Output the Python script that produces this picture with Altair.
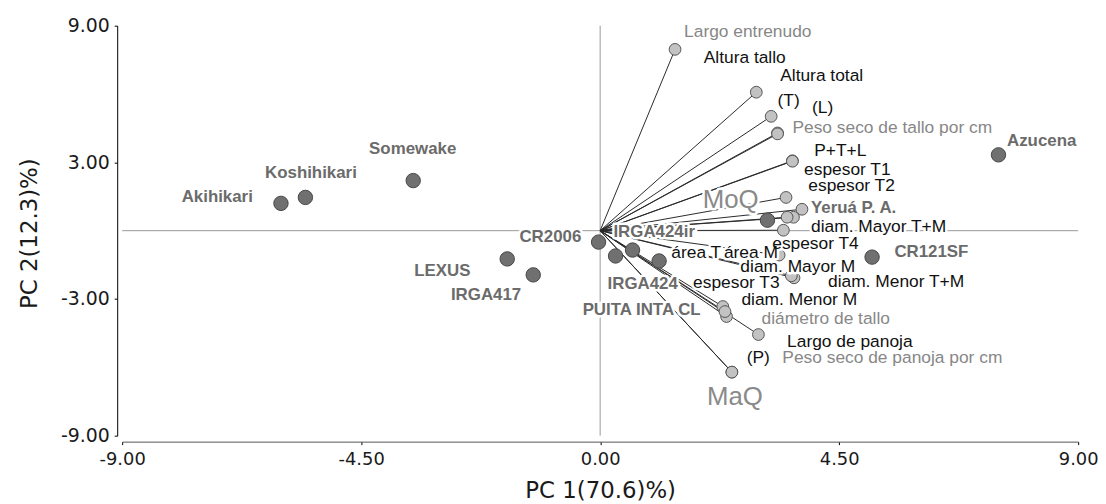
import altair as alt
import pandas as pd

# ---- genotypes (scores) ----
gen_names = ["Akihikari", "Koshihikari", "Somewake", "Azucena", "CR2006", "LEXUS",
             "IRGA417", "CR121SF", "PUITA INTA CL", "IRGA424ir", "IRGA424", "Yeruá P. A."]
gen_pc1 = [-6.01, -5.55, -3.52, 7.50, -0.03, -1.75, -1.26, 5.12, 0.29, 0.61, 1.11, 3.15]
gen_pc2 = [1.20, 1.46, 2.20, 3.33, -0.50, -1.24, -1.94, -1.16, -1.11, -0.85, -1.33, 0.46]
gen_lab_pc1 = [-7.88, -6.31, -4.35, 7.66, -1.52, -3.50, -2.81, 5.54, -0.33, 0.25, 0.14, 3.97]
gen_lab_pc2 = [1.46, 2.55, 3.60, 3.92, -0.28, -1.77, -2.81, -0.94, -3.47, -0.07, -2.35, 0.98]

# ---- variables (loadings) ----
var_names = ["Largo entrenudo", "Altura tallo", "Altura total", "(T)", "(L)",
             "Peso seco de tallo por cm", "P+T+L", "espesor T1", "espesor T2",
             "diam. Mayor  T+M", "espesor T4", "área T", "área M", "diam. Mayor M",
             "diam. Menor T+M", "espesor T3", "diam. Menor M", "diámetro de tallo",
             "Largo de panoja", "(P)", "Peso seco de panoja por cm"]
var_pc1 = [1.41, 2.94, 3.22, 3.34, 3.34, 3.62, 3.62, 3.50, 3.80, 3.64, 3.52, 3.45, 3.37,
           3.65, 3.60, 2.31, 2.38, 2.35, 2.98, 2.48, 2.48]
var_pc2 = [7.96, 6.08, 5.02, 4.29, 4.25, 3.07, 3.05, 1.46, 0.94, 0.59, 0.59, 0.02, -1.07,
           -2.07, -1.98, -3.33, -3.77, -3.55, -4.56, -6.21, -6.21]
var_lab_pc1 = [1.58, 1.95, 3.39, 3.34, 3.99, 3.62, 4.03, 3.84, 3.92, 3.97, 3.24, 1.34, 2.33,
               2.64, 4.29, 1.75, 2.66, 3.04, 3.52, 2.76, 3.43]
var_lab_pc2 = [8.74, 7.56, 6.78, 5.69, 5.38, 4.51, 3.51, 2.68, 1.98, 0.15, -0.59, -0.98, -0.98,
               -1.59, -2.25, -2.29, -3.03, -3.86, -4.90, -5.60, -5.60]
var_tone = ["gris", "negro", "negro", "negro", "negro", "gris", "negro", "negro", "negro",
            "negro", "negro", "negro", "negro", "negro", "negro", "negro", "negro", "gris",
            "negro", "negro", "gris"]

# ---- group labels ----
grp_names = ["MoQ", "MaQ"]
grp_pc1 = [1.93, 2.01]
grp_pc2 = [1.33, -7.30]

x_ticks = [-9, -4.5, 0, 4.5, 9]
y_ticks = [-9, -3, 3, 9]

gen = pd.DataFrame({"name": gen_names, "pc1": gen_pc1, "pc2": gen_pc2,
                    "lx": gen_lab_pc1, "ly": gen_lab_pc2})
var = pd.DataFrame({"name": var_names, "pc1": var_pc1, "pc2": var_pc2,
                    "lx": var_lab_pc1, "ly": var_lab_pc2, "tone": var_tone})
grp = pd.DataFrame({"name": grp_names, "lx": grp_pc1, "ly": grp_pc2})

xs = alt.Scale(domain=[-9, 9], nice=False, zero=False)
ys = alt.Scale(domain=[-9, 9], nice=False, zero=False)

lbl_expr = "replace(format(datum.value, '.2f'), '\u2212', '-')"

x_axis = alt.Axis(values=x_ticks, labelExpr=lbl_expr, grid=False, domainColor="#555",
                  tickColor="#000", tickSize=3, labelFont="DejaVu Sans", labelFontSize=18,
                  labelColor="#1a1a1a", labelPadding=6, labelFlush=False, labelOverlap=False,
                  offset=6, title="PC 1(70.6)%)", titleFont="DejaVu Sans", titleFontSize=23,
                  titleFontWeight="normal", titleColor="#1a1a1a", titleY=49,
                  titleBaseline="middle")
y_axis = alt.Axis(values=y_ticks, labelExpr=lbl_expr, grid=False, domainColor="#000",
                  tickColor="#000", tickSize=3, labelFont="DejaVu Sans", labelFontSize=19,
                  labelColor="#1a1a1a", labelPadding=5, labelFlush=False, labelOverlap=False,
                  offset=5, title="PC 2(12.3)%)", titleFont="DejaVu Sans", titleFontSize=23,
                  titleFontWeight="normal", titleColor="#1a1a1a", titleX=-88, titleY=209,
                  titleBaseline="middle")

base_axes = alt.Chart(gen).mark_point(opacity=0).encode(
    x=alt.X("pc1:Q", scale=xs, axis=x_axis),
    y=alt.Y("pc2:Q", scale=ys, axis=y_axis),
)

zero = pd.DataFrame({"z": [0]})
hline = alt.Chart(zero).mark_rule(color="#9a9a9a", strokeWidth=1).encode(y="z:Q")
vline = alt.Chart(zero).mark_rule(color="#9a9a9a", strokeWidth=1).encode(x="z:Q")

vectors = alt.Chart(var).transform_calculate(o="0").mark_rule(
    color="#2a2a2a", strokeWidth=1).encode(
    x="o:Q", y="o:Q", x2="pc1:Q", y2="pc2:Q")

var_pts = alt.Chart(var).mark_circle(size=140, color="#c2c2c2", opacity=1,
                                     stroke="#555", strokeWidth=1).encode(
    x="pc1:Q", y="pc2:Q")

gen_pts = alt.Chart(gen).mark_circle(size=210, color="#707070", opacity=1,
                                     stroke="#474747", strokeWidth=1).encode(
    x="pc1:Q", y="pc2:Q")


def text_layer(df, size, weight, color_enc, halo):
    kw = dict(align="left", baseline="middle", font="Liberation Sans",
              fontSize=size, fontWeight=weight)
    if halo:
        kw.update(stroke="white", strokeWidth=5, strokeJoin="round", color="white")
        return alt.Chart(df).mark_text(**kw).encode(x="lx:Q", y="ly:Q", text="name:N")
    return alt.Chart(df).mark_text(**kw).encode(x="lx:Q", y="ly:Q", text="name:N",
                                                color=color_enc)


tone_color = alt.Color("tone:N", scale=alt.Scale(domain=["negro", "gris"],
                                                 range=["#111111", "#878787"]),
                       legend=None)

var_halo = text_layer(var, 17.5, "normal", None, True)
var_txt = text_layer(var, 17.5, "normal", tone_color, False)
gen_halo = text_layer(gen, 17, "bold", None, True)
gen_txt = text_layer(gen, 17, "bold", alt.value("#6b6b6b"), False)
grp_halo = text_layer(grp, 26, "normal", None, True)
grp_txt = text_layer(grp, 26, "normal", alt.value("#8a8a8a"), False)

chart = alt.layer(
    base_axes, hline, vline, vectors, var_pts, gen_pts,
    var_halo, gen_halo, grp_halo, var_txt, gen_txt, grp_txt
).properties(
    width=963, height=413,
    padding={"left": 115, "top": 16, "right": 20, "bottom": 67},
    autosize=alt.AutoSizeParams(type="none"),
    background="white",
).configure_view(stroke=None)

chart.save("out.html", embed_options={"renderer": "svg", "actions": False})
